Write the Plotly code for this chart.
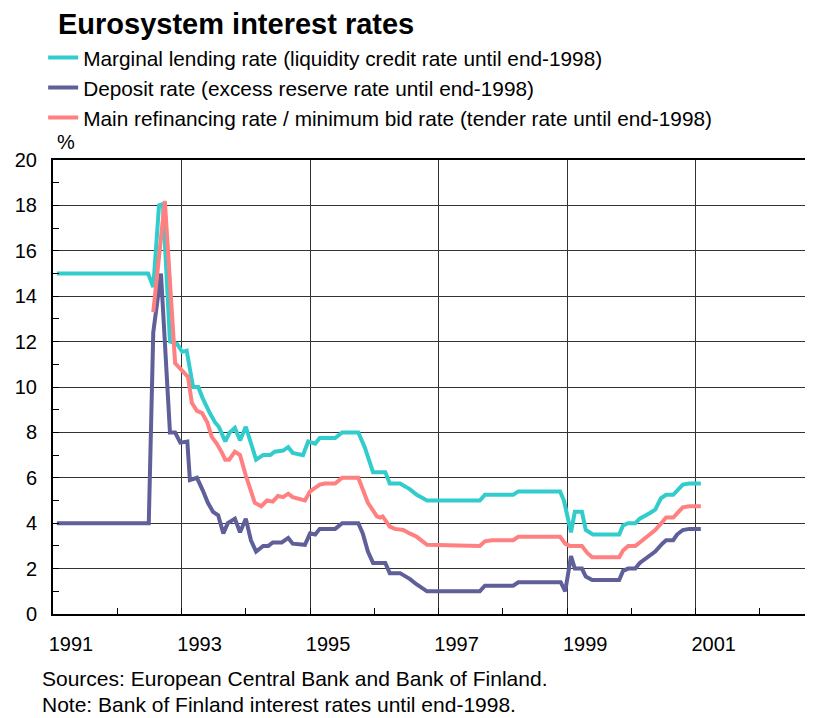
import plotly.graph_objects as go

# Marginal lending rate (liquidity credit rate until end-1998)
ml_x = [1991.06, 1992.48, 1992.56, 1992.65, 1992.71, 1992.82, 1992.93, 1993.01, 1993.08, 1993.18,
        1993.26, 1993.33, 1993.44, 1993.52, 1993.58, 1993.68, 1993.75, 1993.83, 1993.91, 1994.00,
        1994.16, 1994.27, 1994.38, 1994.45, 1994.58, 1994.66, 1994.73, 1994.89, 1994.97, 1995.08,
        1995.15, 1995.39, 1995.50, 1995.75, 1995.85, 1995.98, 1996.17, 1996.24, 1996.40, 1996.55,
        1996.66, 1996.82, 1997.64, 1997.72, 1998.16, 1998.24, 1998.89, 1998.95, 1999.06, 1999.12,
        1999.23, 1999.29, 1999.40, 1999.81, 1999.87, 1999.95, 2000.06, 2000.13, 2000.29, 2000.37,
        2000.46, 2000.54, 2000.65, 2000.71, 2000.80, 2000.90, 2001.08]
ml_y = [15.0, 15.0, 14.4, 18.0, 18.05, 12.0, 11.9, 11.55, 11.6, 10.0,
        10.0, 9.5, 8.85, 8.45, 8.25, 7.6, 8.0, 8.2, 7.65, 8.25,
        6.8, 7.0, 7.0, 7.15, 7.2, 7.35, 7.1, 7.0, 7.6, 7.5,
        7.75, 7.75, 8.0, 8.0, 7.35, 6.25, 6.25, 5.75, 5.75, 5.5,
        5.25, 5.0, 5.0, 5.25, 5.25, 5.4, 5.4, 5.0, 3.6, 4.5,
        4.5, 3.7, 3.5, 3.5, 3.9, 4.0, 4.0, 4.2, 4.45, 4.6,
        5.1, 5.25, 5.25, 5.45, 5.7, 5.75, 5.75]

# Deposit rate (excess reserve rate until end-1998)
dr_x = [1991.06, 1992.49, 1992.56, 1992.68, 1992.82, 1992.90, 1992.98, 1993.09, 1993.13, 1993.24,
        1993.33, 1993.41, 1993.49, 1993.57, 1993.65, 1993.72, 1993.83, 1993.91, 1994.00, 1994.08,
        1994.16, 1994.27, 1994.35, 1994.42, 1994.56, 1994.66, 1994.73, 1994.92, 1995.00, 1995.08,
        1995.15, 1995.39, 1995.50, 1995.75, 1995.82, 1995.90, 1995.98, 1996.17, 1996.24, 1996.40,
        1996.55, 1996.66, 1996.82, 1997.64, 1997.72, 1998.16, 1998.24, 1998.90, 1998.97, 1999.06,
        1999.12, 1999.23, 1999.29, 1999.39, 1999.81, 1999.87, 1999.95, 2000.06, 2000.13, 2000.29,
        2000.37, 2000.48, 2000.54, 2000.65, 2000.71, 2000.80, 2000.90, 2001.08]
dr_y = [4.0, 4.0, 12.4, 15.0, 8.0, 8.0, 7.55, 7.6, 5.9, 6.0,
        5.45, 4.9, 4.5, 4.35, 3.55, 4.0, 4.2, 3.6, 4.2, 3.25,
        2.75, 3.0, 3.0, 3.15, 3.15, 3.35, 3.1, 3.05, 3.55, 3.5,
        3.75, 3.75, 4.0, 4.0, 3.55, 2.75, 2.25, 2.25, 1.8, 1.8,
        1.55, 1.3, 1.0, 1.0, 1.25, 1.25, 1.4, 1.4, 1.0, 2.55,
        2.0, 2.0, 1.65, 1.5, 1.5, 1.9, 2.0, 2.0, 2.25, 2.55,
        2.75, 3.1, 3.25, 3.25, 3.5, 3.7, 3.75, 3.75]

# Main refinancing rate / minimum bid rate (tender rate until end-1998)
mr_x = [1992.56, 1992.74, 1992.90, 1993.02, 1993.10, 1993.16, 1993.24, 1993.32, 1993.40, 1993.47,
        1993.55, 1993.63, 1993.68, 1993.74, 1993.83, 1993.91, 1994.00, 1994.14, 1994.24, 1994.33,
        1994.42, 1994.50, 1994.58, 1994.66, 1994.73, 1994.92, 1995.00, 1995.15, 1995.23, 1995.39,
        1995.50, 1995.75, 1995.82, 1995.90, 1996.04, 1996.09, 1996.13, 1996.24, 1996.32, 1996.45,
        1996.55, 1996.66, 1996.82, 1997.64, 1997.72, 1997.83, 1998.16, 1998.24, 1998.89, 1998.97,
        1999.04, 1999.23, 1999.31, 1999.39, 1999.81, 1999.87, 1999.95, 2000.06, 2000.13, 2000.29,
        2000.37, 2000.48, 2000.54, 2000.65, 2000.71, 2000.80, 2000.90, 2001.08]
mr_y = [13.3, 18.2, 11.05, 10.65, 10.45, 9.3, 8.95, 8.85, 8.45, 7.8,
        7.5, 7.1, 6.8, 6.8, 7.15, 7.0, 6.1, 4.9, 4.75, 5.0,
        4.95, 5.2, 5.15, 5.3, 5.15, 5.0, 5.4, 5.7, 5.75, 5.75,
        6.0, 6.0, 5.45, 4.9, 4.3, 4.25, 4.3, 3.85, 3.75, 3.7,
        3.55, 3.4, 3.05, 3.0, 3.2, 3.25, 3.25, 3.4, 3.4, 3.1,
        3.0, 3.0, 2.7, 2.5, 2.5, 2.8, 3.0, 3.0, 3.15, 3.5,
        3.7, 4.05, 4.25, 4.25, 4.45, 4.7, 4.75, 4.75]

series_names = [
    "Marginal lending rate (liquidity credit rate until end-1998)",
    "Deposit rate (excess reserve rate until end-1998)",
    "Main refinancing rate / minimum bid rate (tender rate until end-1998)",
]
series_colors = ["#33CCCC", "#5F5F99", "#FF8080"]

grid_years = [1991, 1993, 1995, 1997, 1999, 2001]
minor_years = [1992, 1994, 1996, 1998, 2000, 2002]
year_labels = ["1991", "1993", "1995", "1997", "1999", "2001"]
label_shift = 0.28  # labels sit a little right of the gridlines
y_ticks = [0, 2, 4, 6, 8, 10, 12, 14, 16, 18, 20]
y_minor = [1, 3, 5, 7, 9, 11, 13, 15, 17, 19]

FONT = "Liberation Sans, Arial, sans-serif"

fig = go.Figure()
for xs, ys, name, col in zip([ml_x, dr_x, mr_x], [ml_y, dr_y, mr_y], series_names, series_colors):
    fig.add_trace(go.Scatter(x=xs, y=ys, mode="lines", name=name,
                             line=dict(color=col, width=4)))

x_range = [1991, 2002.81]

# page body has an 8px margin, so the figure is sized/placed to compensate
fig.update_layout(
    template="none",
    width=805, height=710,
    margin=dict(l=45, r=1, t=152, b=104, autoexpand=False),
    paper_bgcolor="white", plot_bgcolor="white",
    font=dict(family=FONT, size=20, color="black"),
    showlegend=True,
    legend=dict(x=-0.013, y=1.27, xanchor="left", yanchor="top",
                font=dict(size=20.8, family=FONT), bgcolor="rgba(0,0,0,0)",
                traceorder="normal", tracegroupgap=0),
    xaxis=dict(range=x_range, tickvals=grid_years, showticklabels=False,
               showgrid=True, gridcolor="#333333", gridwidth=1,
               ticks="inside", ticklen=6, tickcolor="black",
               minor=dict(tickvals=minor_years, ticks="inside", ticklen=6,
                          tickcolor="black", showgrid=False),
               showline=True, linecolor="black", linewidth=2, mirror=True,
               zeroline=False, automargin=False),
    xaxis2=dict(range=x_range, overlaying="x", anchor="y", side="bottom",
                tickvals=[g + label_shift for g in grid_years], ticktext=year_labels,
                ticks="", showgrid=False, showline=False, zeroline=False,
                tickfont=dict(size=20, family=FONT), ticklabelstandoff=16,
                automargin=False),
    yaxis=dict(range=[0, 20], tickvals=y_ticks, showgrid=True,
               gridcolor="#333333", gridwidth=1,
               ticks="inside", ticklen=6, tickcolor="black",
               minor=dict(tickvals=y_minor, ticks="inside", ticklen=6,
                          tickcolor="black", showgrid=False),
               showline=True, linecolor="black", linewidth=2,
               zeroline=False, tickfont=dict(size=20, family=FONT),
               ticklabelstandoff=10, automargin=False),
)

# invisible trace so the label axis renders
fig.add_trace(go.Scatter(x=x_range, y=[0, 0], xaxis="x2", mode="lines",
                         line=dict(width=0), showlegend=False, hoverinfo="skip"))

fig.add_annotation(text="<b>Eurosystem interest rates</b>", xref="paper", yref="paper",
                   x=(56 - 53) / 759, y=1 + (160 - 24) / 454, xanchor="left", yanchor="middle",
                   showarrow=False, font=dict(size=29, family=FONT))
fig.add_annotation(text="%", xref="paper", yref="paper",
                   x=(55 - 53) / 759, y=1 + (160 - 142) / 454, xanchor="left", yanchor="middle",
                   showarrow=False, font=dict(size=20, family=FONT))
fig.add_annotation(text="Sources: European Central Bank and Bank of Finland.", xref="paper", yref="paper",
                   x=(40 - 53) / 759, y=-(678 - 614) / 454, xanchor="left", yanchor="middle",
                   showarrow=False, font=dict(size=21, family=FONT))
fig.add_annotation(text="Note: Bank of Finland interest rates until end-1998.", xref="paper", yref="paper",
                   x=(40 - 53) / 759, y=-(704 - 614) / 454, xanchor="left", yanchor="middle",
                   showarrow=False, font=dict(size=21, family=FONT))

fig.write_html("out.html")
